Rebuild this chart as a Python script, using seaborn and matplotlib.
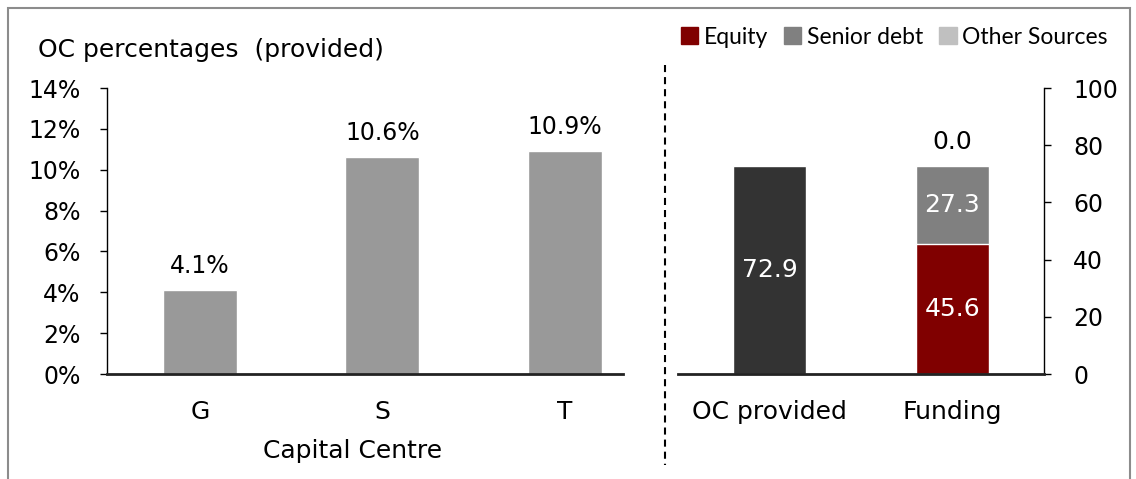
import matplotlib
matplotlib.use("Agg")
import matplotlib.pyplot as plt
import seaborn as sns
import pandas as pd
from matplotlib.patches import Patch, Rectangle
from matplotlib.lines import Line2D

# === Data ===
centres = ["G", "S", "T"]
oc_pct = [4.1, 10.6, 10.9]

right_cats = ["OC provided", "Funding"]
oc_provided = 72.9
equity = 45.6
senior_debt = 27.3
other_sources = 0.0

sns.set_style("white")
plt.rcParams["font.family"] = ["DejaVu Sans"]
plt.rcParams["text.color"] = "black"
plt.rcParams["xtick.color"] = "black"
plt.rcParams["ytick.color"] = "black"
plt.rcParams["axes.labelcolor"] = "black"
FS = 18      # labels, titles
TS = 17      # y tick labels

fig = plt.figure(figsize=(11.36, 4.79), dpi=100)
W, H = 1136, 479

def frac(x0, y0, x1, y1):
    return [x0 / W, 1 - y1 / H, (x1 - x0) / W, (y1 - y0) / H]

# === Left chart: OC percentages ===
ax1 = fig.add_axes(frac(107, 88, 623, 374))
df_left = pd.DataFrame({"Capital Centre": centres, "OC": oc_pct})
sns.barplot(data=df_left, x="Capital Centre", y="OC", color="#999999",
            width=0.405, saturation=1, ax=ax1)
ax1.set_xlim(-0.51, 2.32)
ax1.set_ylim(0, 14)
ax1.set_yticks(range(0, 15, 2))
ax1.set_yticklabels([f"{t}%" for t in range(0, 15, 2)], fontsize=TS)
ax1.tick_params(axis="y", direction="out", length=5, width=1, pad=14, left=True)
ax1.tick_params(axis="x", length=0, pad=19, labelsize=FS)
ax1.set_ylabel("")
ax1.set_xlabel("Capital Centre", fontsize=FS)
ax1.xaxis.set_label_coords(0.475, -0.228)
for s in ["top", "right"]:
    ax1.spines[s].set_visible(False)
ax1.spines["left"].set_color("black")
ax1.spines["left"].set_linewidth(1)
ax1.spines["bottom"].set_color("#222222")
ax1.spines["bottom"].set_linewidth(2)
for i, v in enumerate(oc_pct):
    ax1.annotate(f"{v}%", (i, v), xytext=(0, 9), textcoords="offset points",
                 ha="center", va="bottom", fontsize=17)
fig.text(38 / W, 1 - 50 / H, "OC percentages  (provided)", fontsize=FS, va="center")

# === Right chart: OC provided vs funding ===
ax2 = fig.add_axes(frac(678, 88, 1044, 374))
funding_total = equity + senior_debt + other_sources
sns.barplot(x=[right_cats[0]], y=[oc_provided], order=right_cats, color="#333333",
            width=0.40, saturation=1, ax=ax2)
sns.barplot(x=[right_cats[1]], y=[funding_total], order=right_cats, color="#c0c0c0",
            width=0.40, saturation=1, ax=ax2)
sns.barplot(x=[right_cats[1]], y=[equity + senior_debt], order=right_cats, color="#808080",
            width=0.40, saturation=1, ax=ax2)
sns.barplot(x=[right_cats[1]], y=[equity], order=right_cats, color="#800000",
            width=0.40, saturation=1, ax=ax2)
ax2.set_xlim(-0.5, 1.5)
ax2.set_ylim(0, 100)
ax2.yaxis.tick_right()
ax2.set_yticks(range(0, 101, 20))
ax2.set_yticklabels([str(t) for t in range(0, 101, 20)], fontsize=TS)
ax2.tick_params(axis="y", direction="out", length=5, width=1, pad=16, right=True, left=False)
ax2.tick_params(axis="x", length=0, pad=19, labelsize=FS)
ax2.set_xlabel("")
ax2.set_ylabel("")
for s in ["top", "left"]:
    ax2.spines[s].set_visible(False)
ax2.spines["right"].set_color("black")
ax2.spines["right"].set_linewidth(1)
ax2.spines["bottom"].set_color("#222222")
ax2.spines["bottom"].set_linewidth(2)

ax2.text(0, oc_provided / 2, f"{oc_provided:.1f}", color="white", ha="center", va="center", fontsize=FS)
ax2.text(1, equity / 2, f"{equity:.1f}", color="white", ha="center", va="center", fontsize=FS)
ax2.text(1, equity + senior_debt / 2, f"{senior_debt:.1f}", color="white", ha="center", va="center", fontsize=FS)
ax2.annotate(f"{other_sources:.1f}", (1, funding_total), xytext=(0, 8), textcoords="offset points",
             ha="center", va="bottom", fontsize=FS)

# === Legend ===
handles = [Patch(color="#800000", label="Equity"),
           Patch(color="#808080", label="Senior debt"),
           Patch(color="#c0c0c0", label="Other Sources")]
fig.legend(handles=handles, loc="center right", bbox_to_anchor=(1117 / W, 1 - 37 / H),
           ncol=3, frameon=False, handlelength=0.75, handleheight=0.75,
           handletextpad=0.25, columnspacing=0.7, borderaxespad=0,
           prop={"family": "Lato", "size": 16.5})

# === Divider and border ===
fig.add_artist(Line2D([665 / W, 665 / W], [1 - 65 / H, 1 - 465 / H], color="black",
                      lw=1.5, linestyle=(0, (3.4, 2.4))))
fig.add_artist(Rectangle((8 / W, -0.05), (1130 - 8) / W, 1.05 - 8 / H, fill=False,
                         edgecolor="#8c8c8c", lw=1.5, transform=fig.transFigure))

fig.savefig("out.png", dpi=100)
